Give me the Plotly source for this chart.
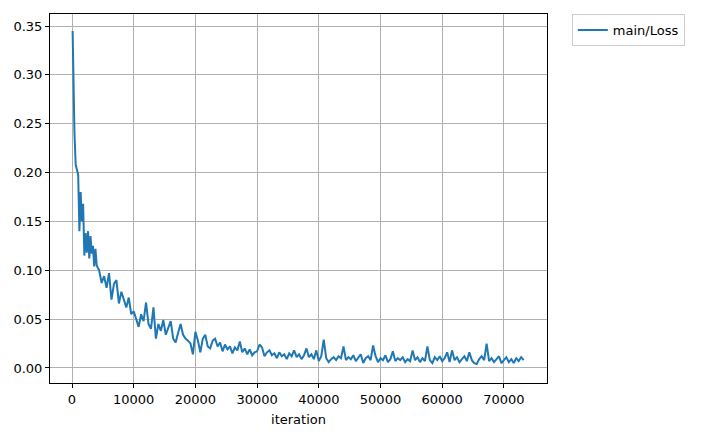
import plotly.graph_objects as go

# logged iterations (dense at start, then every 400)
iterations = [
    100, 200, 400, 600, 800, 1000, 1200, 1400, 1600, 1800, 2000, 2200, 2400, 2600, 2800,
    3000, 3200, 3400, 3600, 3800, 4000, 4400, 4800, 5200, 5600, 6000, 6400, 6800, 7200,
    7600, 8000, 8400, 8800, 9200, 9600, 10000, 10400, 10800, 11200, 11600, 12000, 12400,
    12800, 13200, 13600, 14000, 14400, 14800, 15200, 15600, 16000, 16400, 16800, 17200,
    17600, 18000, 18400, 18800, 19200, 19600, 20000, 20400, 20800, 21200, 21600, 22000,
    22400, 22800, 23200, 23600, 24000, 24400, 24800, 25200, 25600, 26000, 26400, 26800,
    27200, 27600, 28000, 28400, 28800, 29200, 29600, 30000, 30400, 30800, 31200, 31600,
    32000, 32400, 32800, 33200, 33600, 34000, 34400, 34800, 35200, 35600, 36000, 36400,
    36800, 37200, 37600, 38000, 38400, 38800, 39200, 39600, 40000, 40400, 40800, 41200,
    41600, 42000, 42400, 42800, 43200, 43600, 44000, 44400, 44800, 45200, 45600, 46000,
    46400, 46800, 47200, 47600, 48000, 48400, 48800, 49200, 49600, 50000, 50400, 50800,
    51200, 51600, 52000, 52400, 52800, 53200, 53600, 54000, 54400, 54800, 55200, 55600,
    56000, 56400, 56800, 57200, 57600, 58000, 58400, 58800, 59200, 59600, 60000, 60400,
    60800, 61200, 61600, 62000, 62400, 62800, 63200, 63600, 64000, 64400, 64800, 65200,
    65600, 66000, 66400, 66800, 67200, 67600, 68000, 68400, 68800, 69200, 69600, 70000,
    70400, 70800, 71200, 71600, 72000, 72400, 72800, 73200,
]

main_loss = [
    0.345, 0.300, 0.240, 0.208, 0.201, 0.198, 0.140, 0.180, 0.150, 0.168, 0.115, 0.138, 0.118, 0.140, 0.112,
    0.135, 0.117, 0.125, 0.104, 0.122, 0.105, 0.100, 0.087, 0.094, 0.082, 0.097, 0.070, 0.086, 0.090,
    0.066, 0.078, 0.070, 0.062, 0.072, 0.055, 0.058, 0.050, 0.042, 0.055, 0.048, 0.067, 0.045,
    0.040, 0.062, 0.030, 0.045, 0.038, 0.049, 0.034, 0.042, 0.048, 0.030, 0.026, 0.036,
    0.045, 0.034, 0.030, 0.028, 0.025, 0.014, 0.037, 0.028, 0.016, 0.030, 0.034, 0.022,
    0.020, 0.028, 0.030, 0.022, 0.026, 0.017, 0.024, 0.019, 0.022, 0.015, 0.021, 0.018,
    0.027, 0.016, 0.020, 0.014, 0.019, 0.013, 0.016, 0.017, 0.024, 0.021, 0.012, 0.016,
    0.018, 0.013, 0.015, 0.010, 0.016, 0.012, 0.014, 0.009, 0.015, 0.012, 0.018, 0.011,
    0.014, 0.009, 0.013, 0.020, 0.011, 0.014, 0.009, 0.018, 0.007, 0.012, 0.029, 0.010,
    0.006, 0.009, 0.011, 0.008, 0.012, 0.010, 0.022, 0.008, 0.011, 0.009, 0.013, 0.007,
    0.011, 0.014, 0.005, 0.010, 0.012, 0.008, 0.023, 0.012, 0.006, 0.010, 0.008, 0.013,
    0.006, 0.009, 0.017, 0.007, 0.010, 0.008, 0.011, 0.006, 0.009, 0.007, 0.018, 0.008,
    0.011, 0.006, 0.010, 0.007, 0.022, 0.008, 0.005, 0.011, 0.008, 0.012, 0.007, 0.010,
    0.016, 0.006, 0.018, 0.008, 0.011, 0.006, 0.009, 0.012, 0.007, 0.016, 0.008, 0.005,
    0.004, 0.009, 0.012, 0.008, 0.025, 0.007, 0.010, 0.006, 0.009, 0.012, 0.005, 0.008,
    0.011, 0.006, 0.009, 0.005, 0.010, 0.007, 0.011, 0.008,
]

x_ticks = [0, 10000, 20000, 30000, 40000, 50000, 60000, 70000]
y_ticks = [0.00, 0.05, 0.10, 0.15, 0.20, 0.25, 0.30, 0.35]

fig = go.Figure()
fig.add_trace(go.Scatter(
    x=iterations, y=main_loss, mode="lines", name="main/Loss",
    line=dict(color="#1f77b4", width=2),
))

axis_common = dict(
    showgrid=True, gridcolor="#b0b0b0", gridwidth=0.8,
    showline=True, linecolor="black", linewidth=1, mirror=True,
    ticks="outside", ticklen=4, tickcolor="black", zeroline=False,
    tickfont=dict(size=13),
)

fig.update_xaxes(
    range=[-3566, 76985], tickvals=x_ticks, ticktext=[str(v) for v in x_ticks],
    title=dict(text="iteration", standoff=9, font=dict(size=13)), **axis_common,
)
fig.update_yaxes(
    range=[-0.0154, 0.3623], tickvals=y_ticks, tickformat=".2f", **axis_common,
)

# page body has an 8px margin, so the figure is pulled up/left by that much
fig.update_layout(
    width=701, height=436,
    margin=dict(l=42, r=162, t=6, b=61),
    paper_bgcolor="white", plot_bgcolor="white",
    font=dict(family="DejaVu Sans", size=13, color="black"),
    showlegend=True,
    legend=dict(
        x=1.05, y=1, xanchor="left", yanchor="top",
        bordercolor="#cccccc", borderwidth=1, bgcolor="white",
        font=dict(size=13),
    ),
)

fig.write_html("out.html")
